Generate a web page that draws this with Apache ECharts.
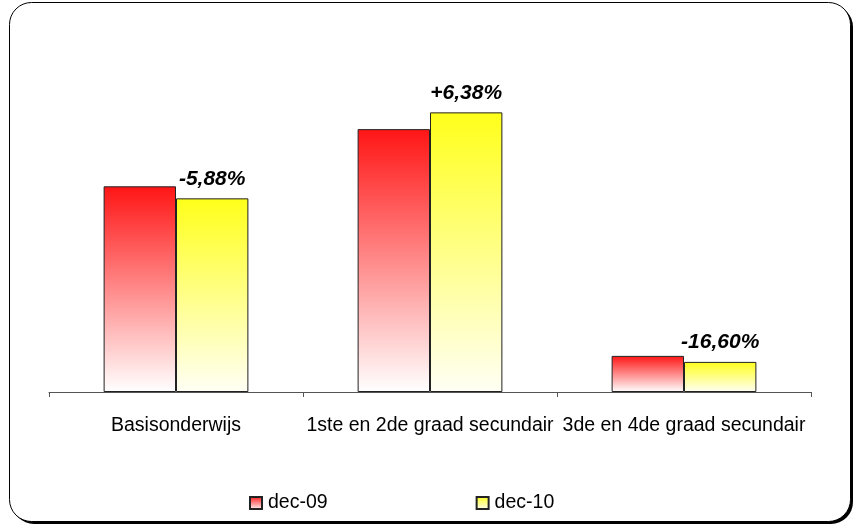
<!DOCTYPE html>
<html>
<head>
<meta charset="utf-8">
<script src="https://cdn.jsdelivr.net/npm/echarts@6/dist/echarts.min.js"></script>
<style>
html,body{margin:0;padding:0;background:#fff;}
#chart{width:860px;height:528px;}
</style>
</head>
<body>
<div id="chart"></div>
<script>
const categories = ['Basisonderwijs', '1ste en 2de graad secundair', '3de en 4de graad secundair'];
const seriesNames = ['dec-09', 'dec-10'];
const dec09 = [2050, 2620, 360];
const dec10 = [1930, 2787, 300];
const changeLabels = ['-5,88%', '+6,38%', '-16,60%'];

const font = 'Liberation Sans, Arial, Helvetica, sans-serif';

function grad(top, bottom) {
  return new echarts.graphic.LinearGradient(0, 0, 0, 1, [
    { offset: 0, color: top },
    { offset: 1, color: bottom }
  ]);
}

const chart = echarts.init(document.getElementById('chart'));
chart.setOption({
  animation: false,
  backgroundColor: '#fff',
  graphic: [
    { type: 'rect', z: -20, shape: { x: 12, y: 5, width: 841, height: 519, r: 22 }, style: { fill: '#000' }, silent: true },
    { type: 'rect', z: -19, shape: { x: 9.5, y: 2.5, width: 841, height: 519, r: 22 }, style: { fill: '#fff', stroke: '#000', lineWidth: 1 }, silent: true }
  ],
  grid: { left: 49, right: 49, top: 91, bottom: 136, containLabel: false },
  legend: {
    data: seriesNames,
    top: 488,
    left: 244,
    itemWidth: 12,
    itemHeight: 12,
    itemGap: 148,
    icon: 'rect',
    textStyle: { fontFamily: font, fontSize: 19.5, color: '#000', padding: [0, 0, 0, 1] }
  },
  xAxis: {
    type: 'category',
    data: categories,
    axisLine: { lineStyle: { color: '#555', width: 1 } },
    axisTick: { show: true, alignWithLabel: false, length: 5, lineStyle: { color: '#555' } },
    axisLabel: { fontFamily: font, fontSize: 19.5, color: '#000', margin: 24, interval: 0 }
  },
  yAxis: {
    type: 'value',
    min: 0,
    max: 3000,
    show: false,
    splitLine: { show: false }
  },
  series: [
    {
      name: seriesNames[0],
      type: 'bar',
      data: dec09,
      barGap: '0%',
      barCategoryGap: '43%',
      itemStyle: { color: grad('#ff1515', '#ffffff'), borderColor: '#222', borderWidth: 1 }
    },
    {
      name: seriesNames[1],
      type: 'bar',
      data: dec10,
      itemStyle: { color: grad('#ffff1a', '#fffff5'), borderColor: '#222', borderWidth: 1 },
      label: {
        show: true,
        position: 'top',
        distance: 9,
        formatter: p => changeLabels[p.dataIndex],
        fontFamily: font,
        fontSize: 21,
        fontWeight: 'bold',
        fontStyle: 'italic',
        color: '#000'
      }
    }
  ]
});
</script>
</body>
</html>
